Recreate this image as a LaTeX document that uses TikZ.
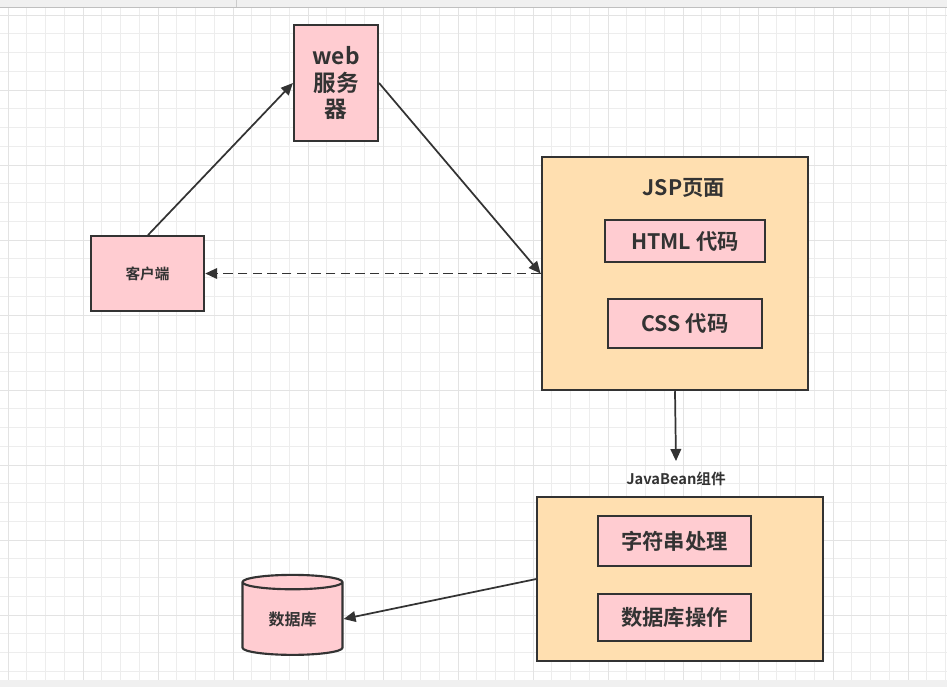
\documentclass[tikz,border=0pt]{standalone}
\usepackage{fontspec}
\setmainfont{Noto Sans CJK SC}[BoldFont={Noto Sans CJK SC Bold}]
\usetikzlibrary{shapes.geometric,arrows.meta}
\definecolor{pinkfill}{HTML}{FFCCD1}
\definecolor{orangefill}{HTML}{FFDFB0}
\definecolor{ink}{HTML}{333333}
\tikzset{
  box/.style={draw=ink,line width=1.6pt,fill=pinkfill,inner sep=0pt,text=ink,font=\bfseries},
  group/.style={draw=ink,line width=1.6pt,fill=orangefill,inner sep=0pt},
  conn/.style={draw=ink,line width=1.3pt,-{Triangle[length=9pt,width=8pt]}}
}
\begin{document}
\begin{tikzpicture}[x=0.75pt,y=-0.75pt]
\useasboundingbox (0,0) rectangle (947,687);
% grid background
\fill[white] (0,0) rectangle (947,687);
\foreach \i in {0,...,51} {
  \draw[black!7,line width=0.5pt] (8+\i*18.75,7) -- (8+\i*18.75,680);
}
\foreach \i in {0,...,36} {
  \draw[black!7,line width=0.5pt] (0,15+\i*18.75) -- (947,15+\i*18.75);
}
\foreach \i in {0,...,12} {
  \draw[black!11,line width=0.7pt] (8+\i*75,7) -- (8+\i*75,680);
}
\foreach \i in {0,...,9} {
  \draw[black!11,line width=0.7pt] (0,15+\i*75) -- (947,15+\i*75);
}
\fill[black!6] (0,0) rectangle (947,7);
\draw[black!25] (0,7) -- (947,7);
\draw[black!20] (236,0) -- (236,7);
\fill[black!6] (0,680) rectangle (947,687);

% nodes
\node[box,minimum width=63pt,minimum height=87pt,align=center,font=\bfseries\fontsize{17}{20}\selectfont]
  (web) at (336,83) {web\\服务\\器};
\node[box,minimum width=85pt,minimum height=56pt,font=\bfseries\fontsize{11}{13}\selectfont]
  (client) at (147.5,273.5) {客户端};
\node[group,minimum width=200pt,minimum height=175pt] (jsp) at (675,273.5) {};
\node[text=ink,font=\bfseries\fontsize{16}{19}\selectfont] (jsptitle) at (684,188) {JSP页面};
\node[box,minimum width=120pt,minimum height=31pt,font=\bfseries\fontsize{16}{19}\selectfont]
  (html) at (685,241) {HTML 代码};
\node[box,minimum width=115pt,minimum height=37pt,font=\bfseries\fontsize{16}{19}\selectfont]
  (css) at (685,323.5) {CSS 代码};
\node[group,minimum width=214pt,minimum height=123pt] (bean) at (680,579) {};
\node[text=ink,font=\bfseries\fontsize{11}{13}\selectfont] (beanlabel) at (676,479) {JavaBean组件};
\coordinate (beantop) at (676,461);
\node[box,minimum width=115pt,minimum height=37pt,font=\bfseries\fontsize{16}{19}\selectfont]
  (str) at (674.5,541) {字符串处理};
\node[box,minimum width=115pt,minimum height=35pt,font=\bfseries\fontsize{16}{19}\selectfont]
  (dbop) at (674.5,617.5) {数据库操作};
\node[box,cylinder,shape border rotate=90,aspect=0.3,minimum width=75pt,minimum height=60pt,
  font=\bfseries\fontsize{12}{14}\selectfont] (db) at (292.5,619) {\raisebox{-8pt}{数据库}};

% connectors
\draw[conn] (client.north) ++(0.5,0) coordinate (c1) (c1) -- (web.west);
\draw[conn] (web.east) -- (jsp.west);
\draw[conn,dashed,dash pattern=on 7pt off 4pt] (jsp.west) -- (client.east);
\draw[conn] (jsp.south) -- (beantop);
\draw[conn] (bean.west) -- (db.east);
\end{tikzpicture}
\end{document}
